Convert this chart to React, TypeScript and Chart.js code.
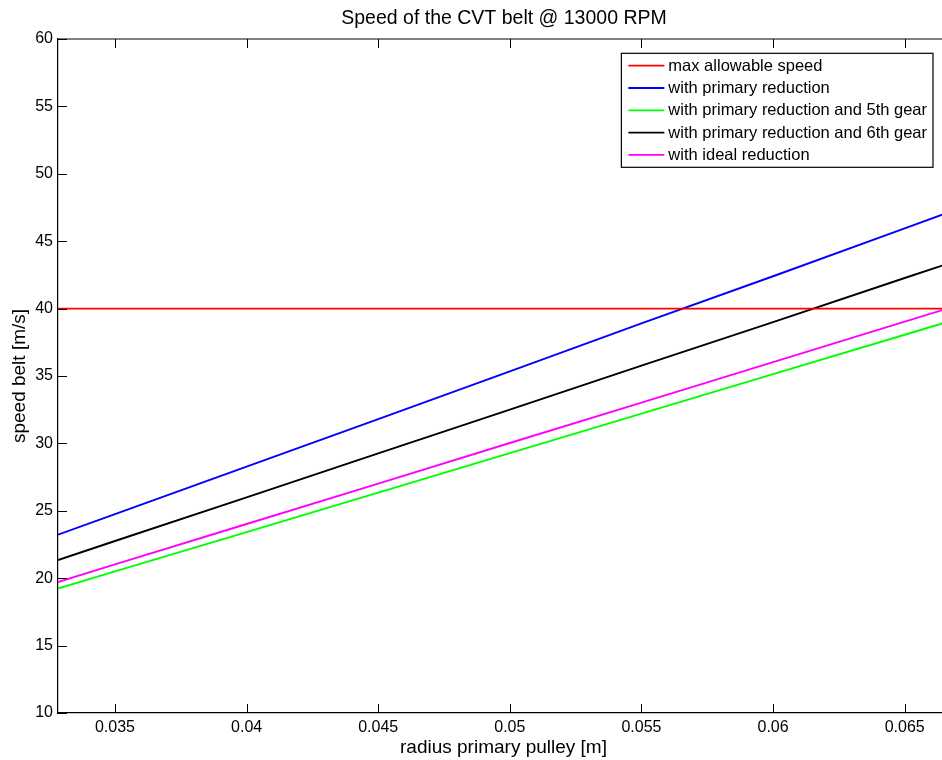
import React, { useEffect, useRef } from "react";
import { Chart, registerables } from "chart.js";

Chart.register(...registerables);

const FONT = "'Liberation Sans', Arial, Helvetica, sans-serif";

const chartTitle = "Speed of the CVT belt @ 13000 RPM";
const xAxisTitle = "radius primary pulley [m]";
const yAxisTitle = "speed belt [m/s]";

// radius of primary pulley [m]
const radius = [0.032835, 0.035, 0.04, 0.045, 0.05, 0.055, 0.06, 0.065, 0.066683];
// belt speeds [m/s]
const maxAllowable = [40, 40, 40, 40, 40, 40, 40, 40, 40];
const primaryReduction = [23.23, 24.75, 28.28, 31.8, 35.35, 38.9, 42.4, 45.95, 47.15];
const primary5thGear = [19.23, 20.5, 23.42, 26.35, 29.28, 32.21, 35.14, 38.06, 39.05];
const primary6thGear = [21.35, 22.76, 26.0, 29.26, 32.5, 35.77, 39.0, 42.27, 43.36];
const idealReduction = [19.72, 21.02, 24.02, 27.02, 30.03, 33.03, 36.03, 39.03, 40.04];

const seriesLabels = [
  "max allowable speed",
  "with primary reduction",
  "with primary reduction and 5th gear",
  "with primary reduction and 6th gear",
  "with ideal reduction",
];
const seriesValues = [maxAllowable, primaryReduction, primary5thGear, primary6thGear, idealReduction];
const seriesColors = ["#ff0000", "#0000ff", "#00ff00", "#000000", "#ff00ff"];

const xTicks = [0.035, 0.04, 0.045, 0.05, 0.055, 0.06, 0.065];
const yTicks = [10, 15, 20, 25, 30, 35, 40, 45, 50, 55, 60];
const xMin = 0.032835;
const xMax = 0.066683;
const yMin = 10;
const yMax = 60;

const TICK_LEN = 9;

const matlabAxesPlugin = {
  id: "matlabAxes",
  afterDatasetsDraw(chart: any) {
    const { ctx, chartArea } = chart;
    const { left, right, top, bottom } = chartArea;
    const xs = chart.scales.x;
    const ys = chart.scales.y;
    ctx.save();
    ctx.strokeStyle = "#000";
    ctx.lineWidth = 1.2;
    ctx.beginPath();
    ctx.moveTo(left, top);
    ctx.lineTo(right, top);
    ctx.stroke();
    ctx.lineWidth = 1;
    ctx.beginPath();
    for (const v of xTicks) {
      const px = Math.round(xs.getPixelForValue(v)) + 0.5;
      ctx.moveTo(px, bottom);
      ctx.lineTo(px, bottom - TICK_LEN);
      ctx.moveTo(px, top);
      ctx.lineTo(px, top + TICK_LEN);
    }
    for (const v of yTicks) {
      const py = Math.round(ys.getPixelForValue(v)) + 0.5;
      ctx.moveTo(left, py);
      ctx.lineTo(left + TICK_LEN, py);
    }
    ctx.stroke();
    ctx.restore();
  },
};

const boxLegendPlugin = {
  id: "boxLegend",
  afterDraw(chart: any) {
    const { ctx, chartArea } = chart;
    const datasets = chart.data.datasets;
    ctx.save();
    ctx.font = `16.5px ${FONT}`;
    let maxW = 0;
    for (const ds of datasets) maxW = Math.max(maxW, ctx.measureText(ds.label).width);
    const padL = 7;
    const sampleLen = 36;
    const gap = 4;
    const padR = 6;
    const rowH = 22.3;
    const boxW = padL + sampleLen + gap + maxW + padR;
    const boxH = rowH * datasets.length + 2.5;
    const boxRight = chartArea.right - 16;
    const boxLeft = boxRight - boxW;
    const boxTop = chartArea.top + 14.3;
    ctx.fillStyle = "#fff";
    ctx.fillRect(boxLeft, boxTop, boxW, boxH);
    ctx.strokeStyle = "#000";
    ctx.lineWidth = 1.2;
    ctx.strokeRect(boxLeft, boxTop, boxW, boxH);
    datasets.forEach((ds: any, i: number) => {
      const y = boxTop + 12.4 + i * rowH;
      ctx.strokeStyle = ds.borderColor;
      ctx.lineWidth = 1.8;
      ctx.beginPath();
      ctx.moveTo(boxLeft + padL, y);
      ctx.lineTo(boxLeft + padL + sampleLen, y);
      ctx.stroke();
      ctx.fillStyle = "#000";
      ctx.textAlign = "left";
      ctx.textBaseline = "middle";
      ctx.fillText(ds.label, boxLeft + padL + sampleLen + gap, y + 0.5);
    });
    ctx.restore();
  },
};

export default function App() {
  const canvasRef = useRef<HTMLCanvasElement | null>(null);

  useEffect(() => {
    const canvas = canvasRef.current;
    if (!canvas) return;
    const chart = new Chart(canvas, {
      type: "line",
      data: {
        datasets: seriesLabels.map((label, i) => ({
          label,
          data: radius.map((r, j) => ({ x: r, y: seriesValues[i][j] })),
          borderColor: seriesColors[i],
          backgroundColor: seriesColors[i],
          borderWidth: 1.9,
          pointRadius: 0,
          pointHoverRadius: 0,
          tension: 0,
          fill: false,
        })),
      },
      options: {
        responsive: false,
        maintainAspectRatio: false,
        devicePixelRatio: 1,
        animation: false,
        events: [],
        layout: { padding: 0 },
        plugins: {
          legend: { display: false },
          tooltip: { enabled: false },
          title: {
            display: true,
            text: chartTitle,
            color: "#000",
            font: { family: FONT, size: 19.5, weight: "normal" },
            padding: { top: 6.8, bottom: 8.8 },
          },
        },
        scales: {
          x: {
            type: "linear",
            position: "bottom",
            min: xMin,
            max: xMax,
            grid: { display: false, drawTicks: false },
            border: { display: true, color: "#000", width: 1.2 },
            afterBuildTicks: (scale: any) => {
              scale.ticks = xTicks.map((v) => ({ value: v }));
            },
            afterFit: (scale: any) => {
              scale.height = 47;
            },
            ticks: {
              color: "#000",
              font: { family: FONT, size: 16 },
              padding: 4.6,
              maxRotation: 0,
              autoSkip: false,
              callback: (v: any) => String(v),
            },
            title: {
              display: true,
              text: xAxisTitle,
              color: "#000",
              font: { family: FONT, size: 19 },
              padding: { top: 0, bottom: 1.2 },
            },
          },
          y: {
            type: "linear",
            position: "left",
            min: yMin,
            max: yMax,
            grid: { display: false, drawTicks: false },
            border: { display: true, color: "#000", width: 1.2 },
            afterBuildTicks: (scale: any) => {
              scale.ticks = yTicks.map((v) => ({ value: v }));
            },
            afterFit: (scale: any) => {
              scale.width = 58;
            },
            ticks: {
              color: "#000",
              font: { family: FONT, size: 16 },
              padding: 5,
              autoSkip: false,
              callback: (v: any) => String(v),
            },
            title: {
              display: true,
              text: yAxisTitle,
              color: "#000",
              font: { family: FONT, size: 19 },
              padding: { top: 8.1, bottom: 0 },
            },
          },
          yRightSpacer: {
            type: "linear",
            position: "right",
            display: true,
            grid: { display: false, drawTicks: false },
            border: { display: false },
            ticks: { display: false },
            afterFit: (scale: any) => {
              scale.width = 59;
            },
          },
        },
      } as any,
      plugins: [matlabAxesPlugin, boxLegendPlugin],
    });
    return () => chart.destroy();
  }, []);

  return (
    <div
      style={{
        position: "fixed",
        left: 0,
        top: 0,
        width: 942,
        height: 760,
        overflow: "hidden",
        background: "#fff",
      }}
    >
      <canvas ref={canvasRef} width={1008} height={760} style={{ display: "block", width: 1008, height: 760 }} />
    </div>
  );
}
